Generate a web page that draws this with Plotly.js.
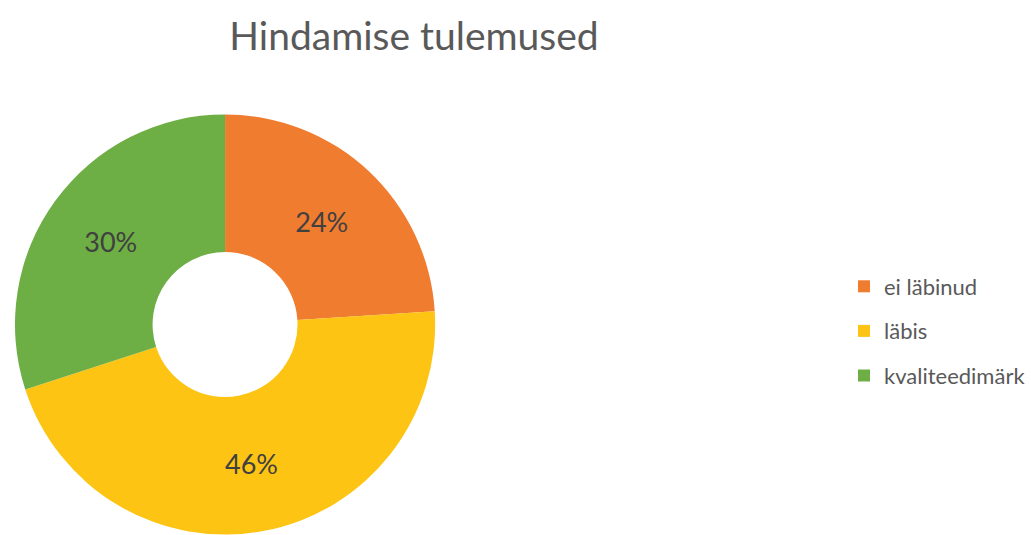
<!DOCTYPE html>
<html>
<head>
<meta charset="utf-8">
<script src="https://cdn.plot.ly/plotly-3.0.1.min.js"></script>
<style>html,body{margin:0;padding:0;background:#fff;}#chart{width:1031px;height:535px;}</style>
</head>
<body>
<div id="chart"></div>
<script>
const categories = ["ei läbinud", "läbis", "kvaliteedimärk"];
const values = [24, 46, 30];
const colors = ["#F07C30", "#FDC414", "#6DAE45"];

const legendLabels = categories.map(c => '<span style="font-size:22px;baseline-shift:4px">' + c + '</span>');

const trace = {
  type: "pie",
  labels: legendLabels,
  values: values,
  hole: 0.345,
  sort: false,
  direction: "clockwise",
  rotation: 0,
  marker: { colors: colors, line: { width: 0 } },
  textinfo: "percent",
  texttemplate: "%{percent:.0%}",
  textposition: "inside",
  insidetextorientation: "horizontal",
  textfont: { family: "Lato, 'Open Sans', sans-serif", size: 27, color: "#404040" },
  domain: { x: [15/1031, 436/1031], y: [0, 421/535] },
  hoverinfo: "percent"
};

const layout = {
  width: 1031,
  height: 535,
  margin: { l: 0, r: 0, t: 0, b: 0 },
  paper_bgcolor: "#ffffff",
  title: {
    text: "Hindamise tulemused",
    x: 414/1031, xanchor: "center",
    y: 1 - 36/535, yanchor: "middle",
    font: { family: "Lato, 'Open Sans', sans-serif", size: 39, color: "#595959" }
  },
  showlegend: true,
  legend: {
    x: 846/1031, xanchor: "left",
    y: 1 - 331/535, yanchor: "middle",
    font: { family: "Lato, 'Open Sans', sans-serif", size: 32, color: "#595959" },
    itemsizing: "constant"
  }
};

Plotly.newPlot("chart", [trace], layout, { displayModeBar: false, staticPlot: true });
</script>
</body>
</html>
